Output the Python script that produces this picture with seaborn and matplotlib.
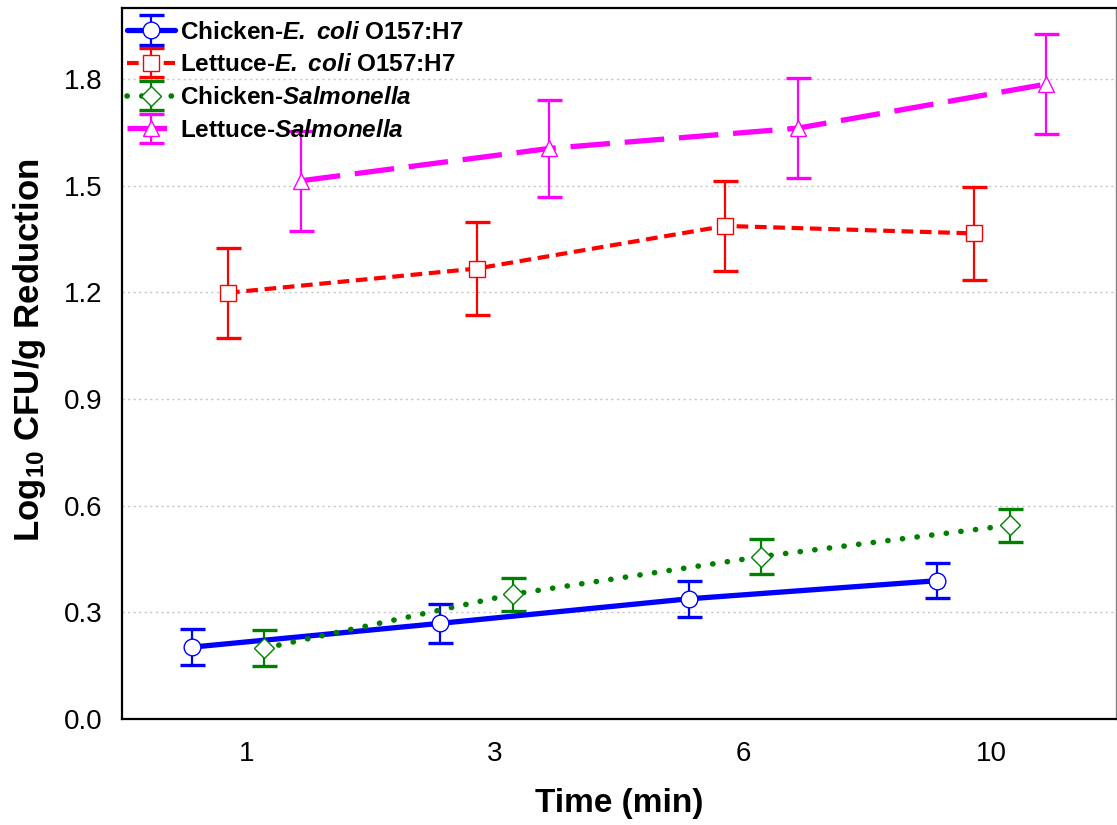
import numpy as np
import pandas as pd
import matplotlib
matplotlib.use("Agg")
import matplotlib.pyplot as plt
from matplotlib.container import ErrorbarContainer
from matplotlib.legend_handler import HandlerErrorbar, HandlerTuple
import seaborn as sns

# ---------------- data ----------------
time_labels = ["1", "3", "6", "10"]
series_names = [
    "Chicken-E. coli O157:H7",
    "Lettuce-E. coli O157:H7",
    "Chicken-Salmonella",
    "Lettuce-Salmonella",
]
chicken_ecoli_mean = [0.202, 0.269, 0.338, 0.389]
chicken_ecoli_err = [0.050, 0.054, 0.050, 0.050]
lettuce_ecoli_mean = [1.199, 1.267, 1.387, 1.366]
lettuce_ecoli_err = [0.126, 0.130, 0.126, 0.130]
chicken_salm_mean = [0.199, 0.351, 0.457, 0.545]
chicken_salm_err = [0.050, 0.047, 0.050, 0.047]
lettuce_salm_mean = [1.514, 1.605, 1.662, 1.786]
lettuce_salm_err = [0.140, 0.136, 0.140, 0.140]
y_ticks = [0.0, 0.3, 0.6, 0.9, 1.2, 1.5, 1.8]

means = [chicken_ecoli_mean, lettuce_ecoli_mean, chicken_salm_mean, lettuce_salm_mean]
errs = [chicken_ecoli_err, lettuce_ecoli_err, chicken_salm_err, lettuce_salm_err]

# ---------------- style ----------------
sns.set_style("white")
plt.rcParams["font.family"] = ["Liberation Sans", "DejaVu Sans"]
plt.rcParams["text.color"] = "black"
plt.rcParams["axes.labelcolor"] = "black"
plt.rcParams["xtick.color"] = "black"
plt.rcParams["ytick.color"] = "black"
plt.rcParams["mathtext.fontset"] = "custom"
plt.rcParams["mathtext.rm"] = "Liberation Sans"
plt.rcParams["mathtext.it"] = "Liberation Sans:italic"
plt.rcParams["mathtext.bf"] = "Liberation Sans:bold"
has_bfit = "mathtext.bfit" in plt.rcParams
if has_bfit:
    plt.rcParams["mathtext.bfit"] = "Liberation Sans:italic:bold"

def ital(s):
    s = s.replace(" ", r"\ ")
    return (r"$\mathbfit{%s}$" % s) if has_bfit else (r"$\mathit{%s}$" % s)

legend_labels = [
    "Chicken-" + ital("E. coli") + " O157:H7",
    "Lettuce-" + ital("E. coli") + " O157:H7",
    "Chicken-" + ital("Salmonella"),
    "Lettuce-" + ital("Salmonella"),
]

colors = ["#0000FF", "#FF0000", "#008000", "#FF00FF"]
markers = ["o", "s", "D", "^"]
msizes = [12, 11, 10, 12]
lws = [3.8, 3.0, 4.0, 3.8]
linestyles = ["-", (0, (2.8, 1.6)), (0, (0.05, 2.6)), (0, (7.5, 2.8))]
offsets = [-0.22, -0.073, 0.073, 0.22]

fig = plt.figure(figsize=(11.17, 8.25), dpi=100)
ax = fig.add_axes([0.1092, 0.1285, 0.999 - 0.1092, 0.9903 - 0.1285])

handles = []
base = np.arange(len(time_labels))
for i in range(4):
    x = base + offsets[i]
    df = pd.DataFrame({"x": x, "y": means[i]})
    eb = ax.errorbar(x, means[i], yerr=errs[i], fmt="none", ecolor=colors[i],
                     elinewidth=1.6, capsize=9, capthick=2.4, zorder=2)
    sns.lineplot(data=df, x="x", y="y", ax=ax, color=colors[i], lw=lws[i],
                 marker=markers[i], markersize=msizes[i], markerfacecolor="white",
                 markeredgecolor=colors[i], markeredgewidth=1.0, zorder=3,
                 sort=True, legend=False)
    line = ax.lines[-1]
    line.set_linestyle(linestyles[i])
    if i == 2:
        line.set_dash_capstyle("round")
    handles.append((eb, line))

# ---------------- axes ----------------
ax.set_xlim(-0.5, 3.5)
ax.set_ylim(0, 2.0)
ax.set_xticks(base)
ax.set_xticklabels(time_labels)
ax.set_yticks(y_ticks)
ax.set_yticklabels([f"{v:.1f}" for v in y_ticks])
ax.tick_params(axis="both", direction="in", length=5, width=1.2, labelsize=20,
               pad=14, colors="black")
ax.tick_params(axis="x", pad=16)
ax.yaxis.grid(True, linestyle=(0, (1.5, 2.5)), color="#c4c4c4", lw=1.0)
ax.xaxis.grid(False)
ax.set_axisbelow(True)
for side in ["left", "bottom", "top"]:
    ax.spines[side].set_color("black")
    ax.spines[side].set_linewidth(1.6)
ax.spines["right"].set_color("#808080")
ax.spines["right"].set_linewidth(1.0)

ax.set_xlabel("Time (min)", fontsize=24, fontweight="bold", labelpad=15, color="black")
ax.set_ylabel(r"Log$_{\mathbf{10}}$ CFU/g Reduction", fontsize=25,
              fontweight="bold", color="black")
ax.yaxis.set_label_coords(-0.074, 0.519)

leg = ax.legend(handles, legend_labels, loc="upper left", bbox_to_anchor=(-0.005, 0.996),
                frameon=False, prop={"size": 17.5, "weight": "bold"},
                handlelength=2.0, handletextpad=0.2, labelspacing=0.4,
                borderaxespad=0.0, borderpad=0.4, labelcolor="black",
                handler_map={tuple: HandlerTuple(ndivide=1),
                             ErrorbarContainer: HandlerErrorbar(xerr_size=0.5, yerr_size=0.6)})

fig.savefig("out.png", dpi=100)
